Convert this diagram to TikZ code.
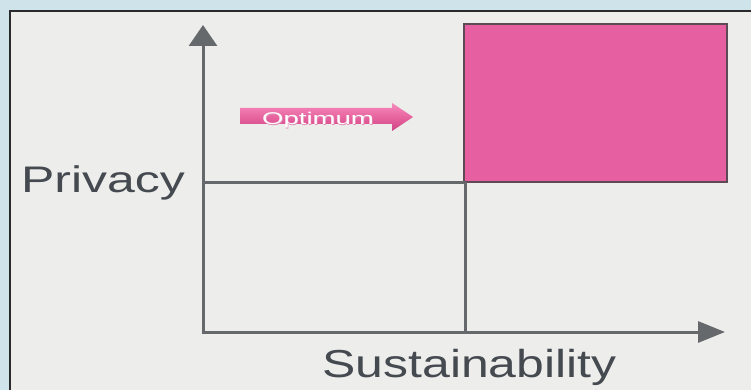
\documentclass[tikz,border=0pt]{standalone}
\usepackage{fontspec}
\setmainfont{Liberation Sans}
\usetikzlibrary{arrows.meta}
\definecolor{outerbg}{HTML}{CFE3EA}
\definecolor{panelbg}{HTML}{EDEDEB}
\definecolor{panelframe}{HTML}{2A2A2A}
\definecolor{axisgray}{HTML}{65696B}
\definecolor{textgray}{HTML}{454A50}
\definecolor{boxpink}{HTML}{E65FA1}
\definecolor{boxedge}{HTML}{5E4A55}
\definecolor{arrtop}{HTML}{F48CBC}
\definecolor{arrmid}{HTML}{E8649F}
\definecolor{arrbot}{HTML}{CC4585}
\tikzset{
  axisline/.style={draw=axisgray, line width=3pt},
  axislabel/.style={text=textgray, inner sep=0pt, anchor=base},
}
\begin{document}
\begin{tikzpicture}[x=1pt,y=-1pt]
\useasboundingbox (0,0) rectangle (751,390);
% backgrounds
\fill[outerbg] (0,0) rectangle (751,390);
\fill[panelbg] (10,11) rectangle (751,390);
\draw[panelframe, line width=2pt] (10,392) -- (10,11) -- (753,11);
% pink quadrant
\filldraw[fill=boxpink, draw=boxedge, line width=1.5pt] (464,24) rectangle (727,182);
% coordinates
\coordinate (origin) at (203,332);
\coordinate (ytip) at (203,25);
\coordinate (xtip) at (725,332);
\coordinate (midx) at (465,332);
\coordinate (midy) at (203,182);
\coordinate (center) at (465,182);
% divider lines
\draw[axisline] (midy) -- (center);
\draw[axisline] (center) -- (midx);
% axes
\draw[axisline, -{Triangle[length=21pt,width=28pt]}] (origin) -- (ytip);
\draw[axisline, -{Triangle[length=27pt,width=21pt]}] ([xshift=-1.5pt]origin) -- (xtip);
% labels
\node[axislabel, font=\fontsize{37}{40}\selectfont] (privacy) at (103,192) {\scalebox{1.35}[1]{Privacy}};
\node[axislabel, font=\fontsize{39}{42}\selectfont] (sust) at (469.5,377) {\scalebox{1.28}[1]{Sustainability}};
% optimum arrow
\shade[top color=arrtop, bottom color=arrbot, middle color=arrmid]
  (240,108) -- (392,108) -- (392,103) -- (413,117) -- (392,131) -- (392,124) -- (240,124) -- cycle;
\node[text=arrbot!60!white, inner sep=0pt, anchor=base, font=\fontsize{17}{19}\selectfont] at (318.6,125.6) {\scalebox{1.62}[1]{Optimum}};
\node[text=white, inner sep=0pt, anchor=base, font=\fontsize{17}{19}\selectfont] (optimum) at (318,125) {\scalebox{1.62}[1]{Optimum}};
\end{tikzpicture}
\end{document}
